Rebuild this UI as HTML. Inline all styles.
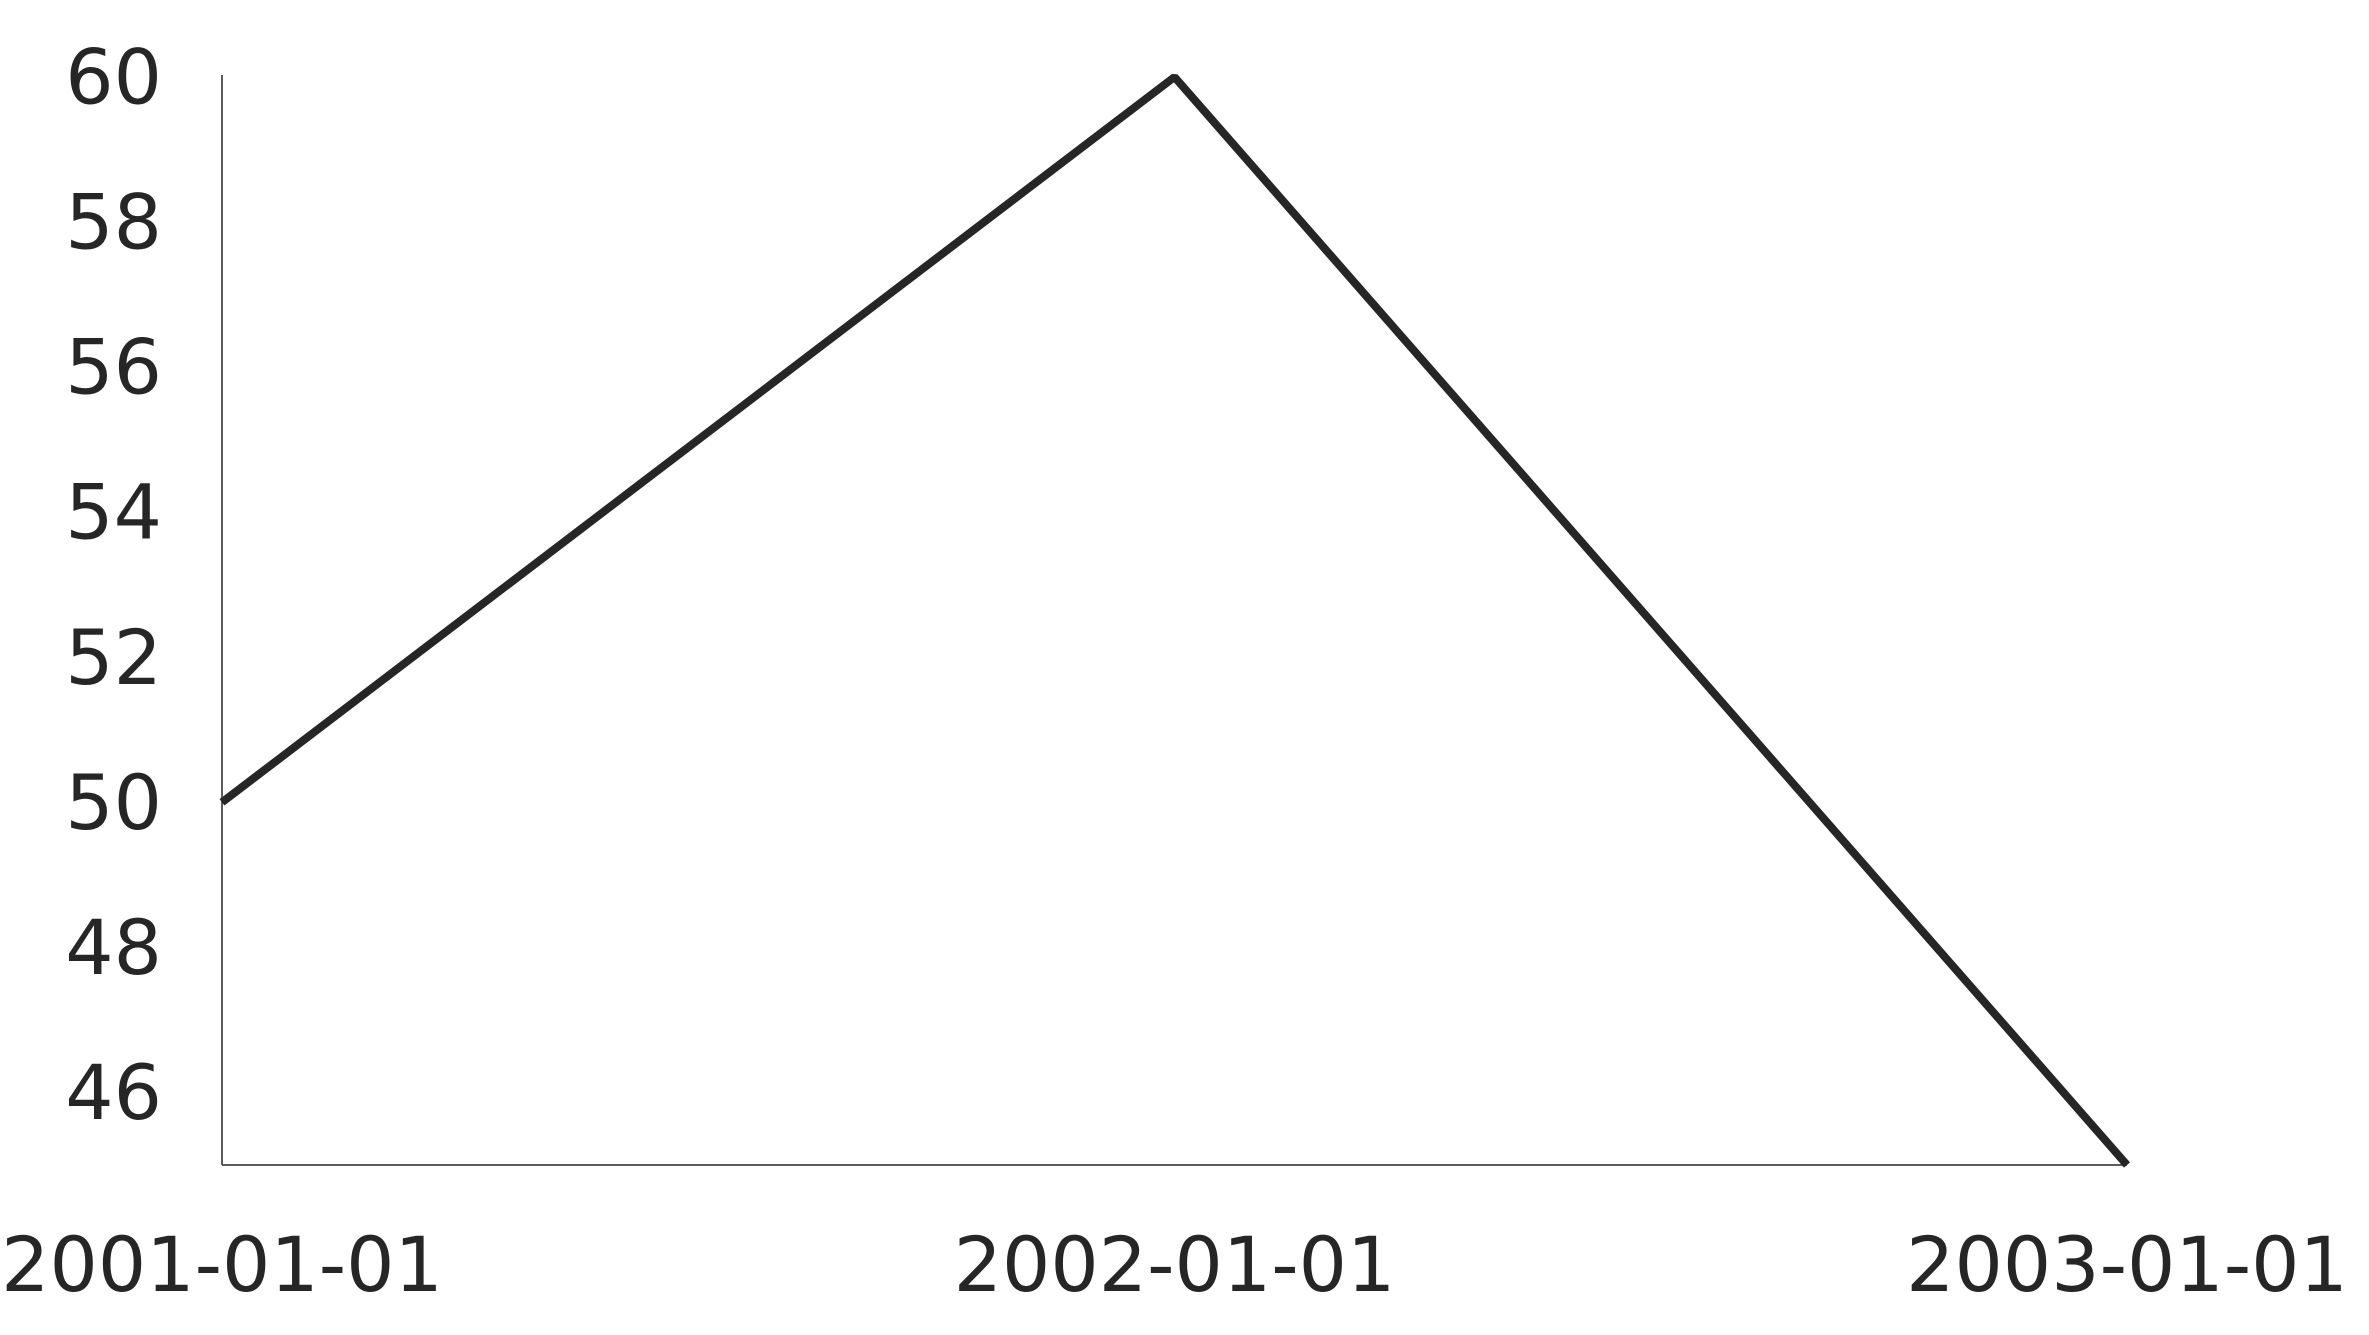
<!DOCTYPE html>
<html><head><meta charset="utf-8"><style>
html,body{margin:0;padding:0;background:#fff;}
svg{display:block;}
text{font-family:"DejaVu Sans","Liberation Sans",sans-serif;fill:#262626;font-size:76px;}
</style></head><body>
<svg id="chart" width="2369" height="1335" viewBox="0 0 2369 1335" xmlns="http://www.w3.org/2000/svg"></svg>
<script>
const categories = ["2001-01-01", "2002-01-01", "2003-01-01"];
const values = [50, 60, 45];
const yTicks = [46, 48, 50, 52, 54, 56, 58, 60];
const yMin = 45, yMax = 60;
const L = 222, R = 2127, T = 77, B = 1165;
const ns = "http://www.w3.org/2000/svg";
const svg = document.getElementById('chart');
function x(i){ return L + (R - L) * i / (categories.length - 1); }
function y(v){ return B - (B - T) * (v - yMin) / (yMax - yMin); }
function mk(tag, attrs){ const e = document.createElementNS(ns, tag); for (const k in attrs) e.setAttribute(k, attrs[k]); svg.appendChild(e); return e; }

const ya = mk('line', {x1:L, y1:75, x2:L, y2:B, stroke:'#262626', 'stroke-width':1.5});


const xa = mk('line', {x1:L, y1:B, x2:R, y2:B, stroke:'#262626', 'stroke-width':1.5});



yTicks.forEach(t => {
  const e = mk('text', {x:162, y:y(t), 'text-anchor':'end', 'dominant-baseline':'central'});
  e.textContent = t;
  
  
});
categories.forEach((c, i) => {
  const e = mk('text', {x:x(i), y:1291, 'text-anchor':'middle'});
  e.textContent = c;
  
  
});
const pts = values.map((v, i) => x(i) + ',' + y(v)).join(' ');
const line = mk('polyline', {points:pts, fill:'none', stroke:'#262626', 'stroke-width':8, 'stroke-linejoin':'bevel'});


</script>
</body></html>
